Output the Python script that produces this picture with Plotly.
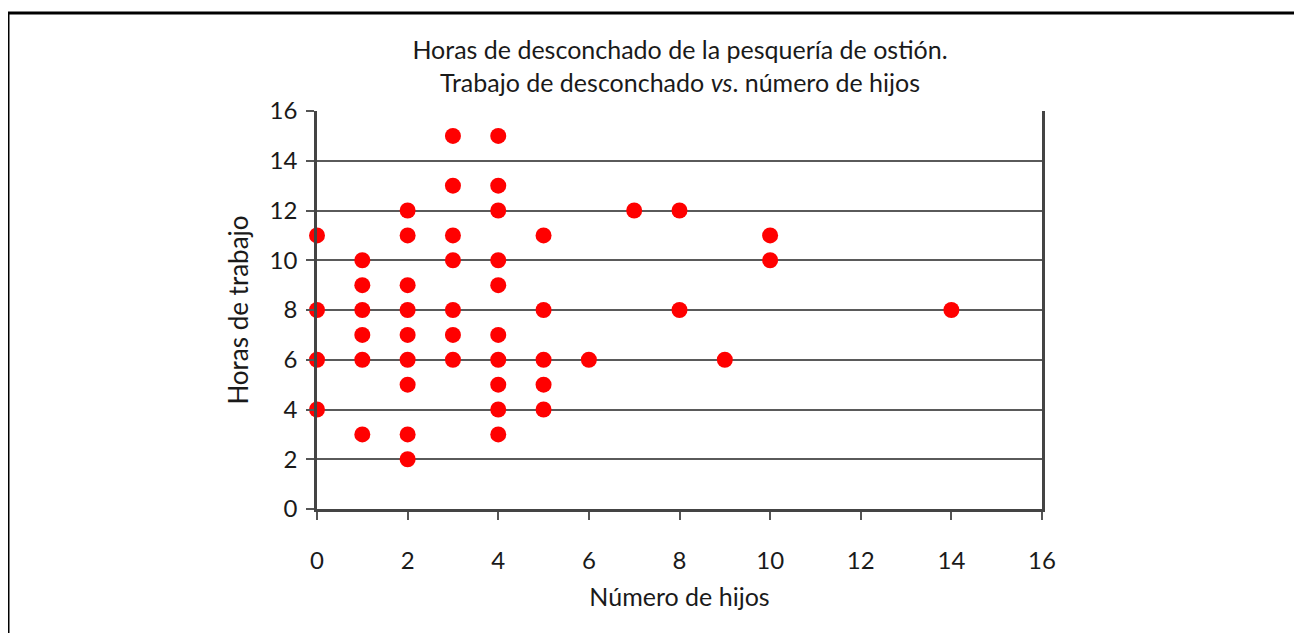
import plotly.graph_objects as go

# Número de hijos (x) y horas de trabajo (y), un punto por trabajadora
hijos = [0, 0, 0, 0,
         1, 1, 1, 1, 1, 1,
         2, 2, 2, 2, 2, 2, 2, 2, 2,
         3, 3, 3, 3, 3, 3, 3,
         4, 4, 4, 4, 4, 4, 4, 4, 4, 4,
         5, 5, 5, 5, 5,
         6, 7, 8, 8, 9, 10, 10, 14]
horas = [11, 8, 6, 4,
         10, 9, 8, 7, 6, 3,
         12, 11, 9, 8, 7, 6, 5, 3, 2,
         15, 13, 11, 10, 8, 7, 6,
         15, 13, 12, 10, 9, 7, 6, 5, 4, 3,
         11, 8, 6, 5, 4,
         6, 12, 12, 8, 6, 11, 10, 8]

title_lines = ["Horas de desconchado de la pesquería de ostión.",
               "Trabajo de desconchado <i>vs</i>. número de hijos"]
x_title = "Número de hijos"
y_title = "Horas de trabajo"

FONT = "Lato"
TXT = '#1a1a1a'

# page has an 8px body margin, so figure coords = screen coords - 8
OFF = 8
W, H = 1302 - OFF, 633 - OFF
L, R, T, B = 317 - OFF, 1042 - OFF, 111 - OFF, 509 - OFF

fig = go.Figure()
fig.add_trace(go.Scatter(
    x=hijos, y=horas,
    mode='markers',
    marker=dict(size=16, color='#ff0000', line=dict(width=0)),
    cliponaxis=False,
    showlegend=False,
))

axis_common = dict(
    showline=True, linecolor='#444', linewidth=2.5,
    ticks='outside', ticklen=8, tickwidth=1.5, tickcolor='#555',
    tickfont=dict(family=FONT, size=24, color=TXT),
    zeroline=False,
)

fig.update_xaxes(
    range=[0, 16], dtick=2, showgrid=False, mirror=False,
    title=dict(text=x_title, font=dict(family=FONT, size=25, color=TXT), standoff=16),
    ticklabelstandoff=20,
    **axis_common,
)
fig.update_yaxes(
    range=[0, 16], dtick=2, showgrid=True, gridcolor='#5a5a5a', gridwidth=1.5,
    mirror=True,
    title=dict(text=y_title, font=dict(family=FONT, size=26, color=TXT), standoff=14),
    ticklabelstandoff=4,
    **axis_common,
)


def px_x(p):
    return (p - OFF - L) / (R - L)


def px_y(p):
    return (B - (p - OFF)) / (B - T)


fig.update_layout(
    width=W, height=H,
    margin=dict(l=L, r=W - R, t=T, b=H - B),
    paper_bgcolor='white', plot_bgcolor='white',
    font=dict(family=FONT, color=TXT),
    title=dict(
        text='<br>'.join(title_lines),
        x=px_x(680), xref='paper', xanchor='center',
        y=1 - 51 / H, yanchor='top',
        font=dict(family=FONT, size=25, color=TXT),
    ),
    shapes=[dict(
        type='rect', xref='paper', yref='paper',
        x0=px_x(8), x1=px_x(1330), y0=px_y(670), y1=px_y(13),
        line=dict(color='black', width=3), layer='below',
    )],
)

fig.write_html("out.html")
